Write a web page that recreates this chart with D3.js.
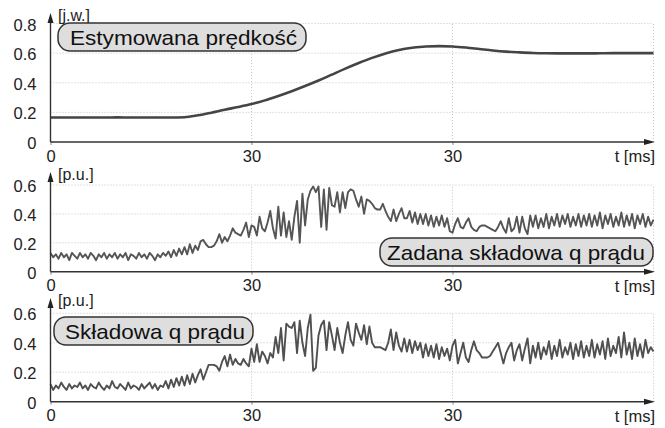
<!DOCTYPE html>
<html>
<head>
<meta charset="utf-8">
<script src="https://cdn.jsdelivr.net/npm/d3@7"></script>
<style>
body { margin: 0; background: #fff; }
svg { font-family: "Liberation Sans", Arial, sans-serif; }
.grid line { stroke: #c4c4c4; stroke-dasharray: 1,2; }
.tick text { fill: #222; }
</style>
</head>
<body>
<svg id="chart" width="665" height="428"></svg>
<script>
// estimated speed [j.w.] read every 2 ms
const speedTime = [0,2,4,6,8,10,12,14,16,18,20,22,24,26,28,30,32,34,36,38,40,42,44,46,48,50,52,54,56,58,60,62,64,66,68,70,72,74,76,78,80,82,84,86,88,90];
const speedValues = [0.165,0.165,0.165,0.165,0.165,0.166,0.165,0.165,0.165,0.165,0.167,0.180,0.198,0.218,0.236,0.256,0.281,0.311,0.343,0.378,
  0.415,0.455,0.495,0.533,0.568,0.598,0.621,0.636,0.645,0.647,0.645,0.638,0.628,0.618,0.610,0.605,0.601,0.599,0.598,0.598,
  0.598,0.599,0.600,0.600,0.600,0.600];

// q current samples, one every 0.4 ms (25 per row = 10 ms)
const sampleStep = 0.4;
const iqRefValues = [
  0.13,0.10,0.12,0.09,0.13,0.10,0.12,0.08,0.13,0.11,0.09,0.13,0.10,0.12,0.09,0.13,0.11,0.08,0.12,0.10,0.13,0.09,0.12,0.10,0.13,
  0.09,0.12,0.10,0.13,0.08,0.12,0.11,0.09,0.13,0.10,0.12,0.09,0.13,0.11,0.08,0.12,0.10,0.13,0.11,0.14,0.10,0.15,0.11,0.16,0.12,
  0.17,0.12,0.19,0.13,0.18,0.15,0.21,0.22,0.19,0.17,0.17,0.18,0.21,0.26,0.20,0.24,0.21,0.25,0.30,0.27,0.26,0.25,0.29,0.34,0.24,
  0.32,0.31,0.25,0.38,0.30,0.28,0.34,0.42,0.30,0.23,0.45,0.25,0.41,0.24,0.35,0.22,0.38,0.49,0.20,0.54,0.32,0.50,0.56,0.59,0.55,
  0.59,0.31,0.57,0.29,0.58,0.46,0.45,0.55,0.41,0.55,0.44,0.55,0.57,0.56,0.50,0.45,0.52,0.40,0.50,0.49,0.47,0.44,0.43,0.43,0.47,
  0.42,0.38,0.35,0.43,0.35,0.40,0.44,0.37,0.37,0.42,0.34,0.41,0.33,0.40,0.33,0.40,0.32,0.39,0.31,0.38,0.32,0.39,0.31,0.37,0.28,
  0.27,0.33,0.37,0.31,0.30,0.34,0.37,0.31,0.29,0.28,0.31,0.32,0.32,0.31,0.30,0.29,0.28,0.31,0.35,0.30,0.27,0.37,0.28,0.30,0.38,
  0.27,0.38,0.30,0.26,0.39,0.31,0.39,0.30,0.37,0.31,0.40,0.30,0.38,0.32,0.40,0.31,0.39,0.33,0.40,0.31,0.38,0.32,0.40,0.31,0.39,
  0.32,0.40,0.31,0.39,0.32,0.41,0.30,0.39,0.33,0.40,0.31,0.38,0.32,0.41,0.31,0.39,0.32,0.40,0.30,0.39,0.33,0.40,0.31,0.38,0.32,
  0.36
];
const iqValues = [
  0.12,0.08,0.11,0.09,0.13,0.10,0.08,0.12,0.09,0.11,0.10,0.13,0.09,0.11,0.08,0.12,0.10,0.09,0.13,0.10,0.08,0.11,0.09,0.14,0.10,
  0.09,0.12,0.10,0.08,0.13,0.09,0.11,0.10,0.08,0.12,0.09,0.11,0.13,0.09,0.12,0.08,0.11,0.10,0.14,0.09,0.15,0.10,0.16,0.11,0.17,
  0.11,0.18,0.12,0.19,0.13,0.18,0.22,0.15,0.20,0.25,0.25,0.25,0.24,0.21,0.27,0.31,0.24,0.32,0.25,0.29,0.26,0.25,0.29,0.26,0.24,
  0.36,0.27,0.39,0.27,0.34,0.31,0.26,0.33,0.30,0.44,0.33,0.50,0.28,0.53,0.51,0.50,0.54,0.33,0.55,0.40,0.31,0.50,0.59,0.21,0.23,
  0.45,0.52,0.55,0.35,0.54,0.45,0.35,0.50,0.40,0.33,0.45,0.54,0.42,0.38,0.53,0.47,0.42,0.52,0.39,0.51,0.40,0.37,0.37,0.37,0.36,
  0.35,0.40,0.49,0.35,0.47,0.38,0.34,0.43,0.34,0.42,0.33,0.41,0.35,0.40,0.30,0.39,0.31,0.38,0.30,0.39,0.29,0.37,0.31,0.36,0.28,
  0.38,0.42,0.26,0.33,0.40,0.30,0.27,0.35,0.41,0.35,0.33,0.30,0.30,0.30,0.31,0.34,0.37,0.40,0.33,0.26,0.33,0.37,0.40,0.28,0.35,
  0.39,0.28,0.36,0.43,0.26,0.38,0.30,0.40,0.29,0.37,0.32,0.41,0.29,0.38,0.31,0.42,0.30,0.37,0.32,0.40,0.29,0.39,0.31,0.41,0.30,
  0.38,0.31,0.42,0.30,0.39,0.32,0.41,0.29,0.43,0.31,0.38,0.33,0.44,0.30,0.47,0.32,0.40,0.29,0.43,0.31,0.39,0.30,0.42,0.33,0.37,
  0.34
];

const xTickValues = [0, 30, 60];
const xTickLabels = ["0", "30", "30"];
const xUnit = "t [ms]";
const speedTicks = [0, 0.2, 0.4, 0.6, 0.8];
const currentTicks = [0, 0.2, 0.4, 0.6];
const tickLabels = {0: "0", 0.2: "0.2", 0.4: "0.4", 0.6: "0.6", 0.8: "0.8"};

const svg = d3.select("#chart");
const x = d3.scaleLinear().domain([0, 90]).range([50.5, 653.5]);

const panels = [
  {times: speedTime, values: speedValues, yMax: 0.8, base: 142, top: 23.5, tip: 13,
   ticks: speedTicks, unit: "[j.w.]", label: "Estymowana prędkość",
   box: [58, 23, 248, 28], textX: 70, textW: 227, stroke: "#444", width: 2.6, curve: d3.curveMonotoneX},
  {times: null, values: iqRefValues, yMax: 0.6, base: 271.7, top: 185, tip: 172,
   ticks: currentTicks, unit: "[p.u.]", label: "Zadana składowa q prądu",
   box: [380, 238, 273, 28], textX: 387, textW: 258, stroke: "#555", width: 1.9, curve: d3.curveLinear},
  {times: null, values: iqValues, yMax: 0.6, base: 401.7, top: 313.3, tip: 298,
   ticks: currentTicks, unit: "[p.u.]", label: "Składowa q prądu",
   box: [54, 317, 199, 28], textX: 65, textW: 180, stroke: "#505050", width: 1.9, curve: d3.curveLinear}
];

panels.forEach(p => {
  const y = d3.scaleLinear().domain([0, p.yMax]).range([p.base, p.top]);
  const g = svg.append("g");
  const times = p.times || p.values.map((d, i) => i * sampleStep);

  // dotted grid
  const grid = g.append("g").attr("class", "grid");
  grid.selectAll(".h").data(p.ticks.filter(d => d > 0)).join("line")
    .attr("x1", x(0)).attr("x2", x(90))
    .attr("y1", d => y(d)).attr("y2", d => y(d));
  grid.selectAll(".v").data([30, 60, 90]).join("line")
    .attr("x1", d => x(d)).attr("x2", d => x(d))
    .attr("y1", p.base).attr("y2", p.top);

  // series
  g.append("path")
    .datum(p.values)
    .attr("fill", "none")
    .attr("stroke", p.stroke)
    .attr("stroke-width", p.width)
    .attr("stroke-linejoin", "round")
    .attr("d", d3.line().x((d, i) => x(times[i])).y(d => y(d)).curve(p.curve));

  // y tick labels
  const yAxis = g.append("g")
    .attr("transform", `translate(${x(0)},0)`)
    .call(d3.axisLeft(y).tickValues(p.ticks).tickSize(0).tickPadding(14).tickFormat(d => tickLabels[d]));
  yAxis.select(".domain").remove();
  yAxis.selectAll("text").attr("font-size", 16.5).attr("font-family", "Liberation Sans, Arial, sans-serif").attr("dy", "0.4em");

  // x tick labels
  const xAxis = g.append("g")
    .attr("transform", `translate(0,${p.base})`)
    .call(d3.axisBottom(x).tickValues(xTickValues).tickSize(3).tickPadding(5)
      .tickFormat((d, i) => xTickLabels[i]));
  xAxis.select(".domain").remove();
  xAxis.selectAll("line").attr("stroke", "#888");
  xAxis.selectAll("text").attr("font-size", 16.5).attr("font-family", "Liberation Sans, Arial, sans-serif");

  g.append("text")
    .attr("x", 655).attr("y", p.base + 20)
    .attr("text-anchor", "end")
    .attr("font-size", 16.5)
    .attr("fill", "#222")
    .text(xUnit);

  // axes with arrows
  g.append("line").attr("x1", x(0)).attr("x2", 646).attr("y1", p.base).attr("y2", p.base)
    .attr("stroke", "#333").attr("stroke-width", 1.4);
  g.append("path").attr("d", `M655,${p.base}L644,${p.base - 3}L644,${p.base + 3}Z`).attr("fill", "#222");
  g.append("line").attr("x1", x(0)).attr("x2", x(0)).attr("y1", p.base).attr("y2", p.tip + 8)
    .attr("stroke", "#333").attr("stroke-width", 1.4);
  g.append("path").attr("d", `M${x(0)},${p.tip}L${x(0) - 3},${p.tip + 10}L${x(0) + 3},${p.tip + 10}Z`).attr("fill", "#222");

  g.append("text")
    .attr("x", 58).attr("y", p.tip + 8)
    .attr("font-size", 16)
    .attr("fill", "#222")
    .text(p.unit);

  // rounded caption box
  const [bx, by, bw, bh] = p.box;
  g.append("rect")
    .attr("x", bx).attr("y", by).attr("width", bw).attr("height", bh)
    .attr("rx", 12).attr("ry", 12)
    .attr("fill", "#dedede").attr("stroke", "#333").attr("stroke-width", 1.5);
  g.append("text")
    .attr("x", p.textX).attr("y", by + bh / 2 + 7.5)
    .attr("font-size", 21)
    .attr("fill", "#111")
    .attr("textLength", p.textW)
    .attr("lengthAdjust", "spacingAndGlyphs")
    .text(p.label);
});
</script>
</body>
</html>
